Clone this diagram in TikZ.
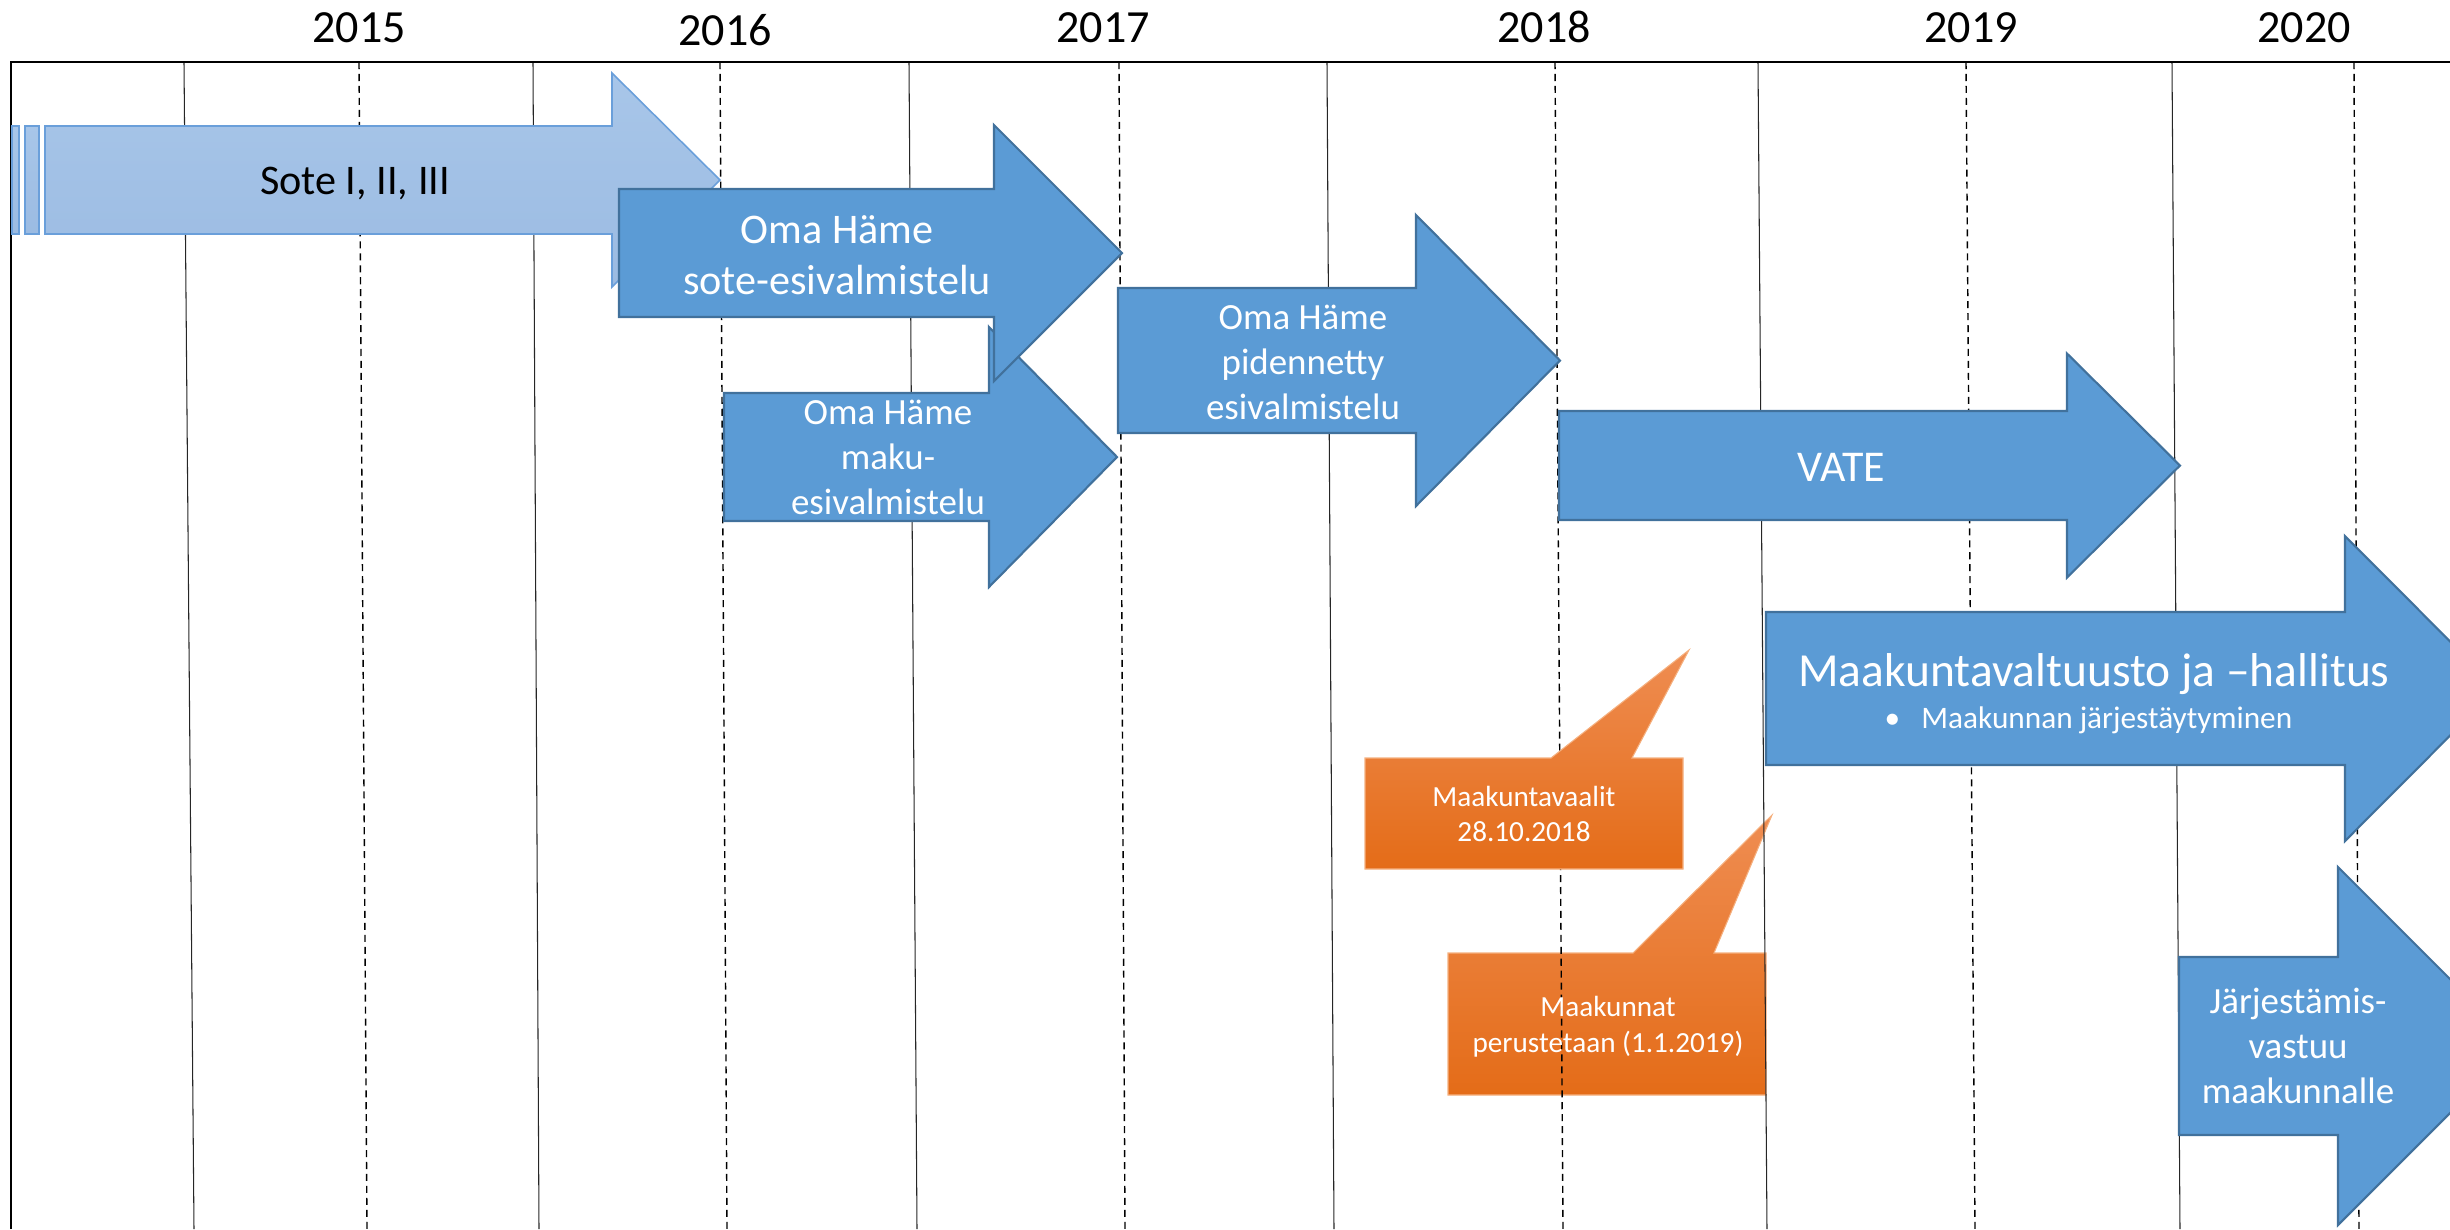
\documentclass[tikz,border=0pt]{standalone}
\usepackage{fontspec}
\setmainfont{Carlito}

\definecolor{omablue}{HTML}{5B9BD5}
\definecolor{omaline}{HTML}{41719C}
\definecolor{sotetop}{HTML}{A8C6E9}
\definecolor{sotebot}{HTML}{9BBBE2}
\definecolor{soteline}{HTML}{6A9FDA}
\definecolor{calltop}{HTML}{EF8D52}
\definecolor{callmid}{HTML}{F37E2E}
\definecolor{callbot}{HTML}{E46C18}
\definecolor{callline}{HTML}{F5B07F}

% block arrow: [style] left x, head x, tip x, mid y, body half, head half
\newcommand{\blockarrow}[7][]{%
  \draw[#1] (#2,{#5-#6}) -- (#3,{#5-#6}) -- (#3,{#5-#7}) -- (#4,#5)
    -- (#3,{#5+#7}) -- (#3,{#5+#6}) -- (#2,{#5+#6}) -- cycle;}

\begin{document}
\begin{tikzpicture}[x=0.01cm,y=-0.01cm,
    frame/.style={line width=0.6pt},
    monthline/.style={line width=0.3pt,black!85},
    yearline/.style={line width=0.4pt,dash pattern=on 2pt off 1.4pt},
    sotearrow/.style={draw=soteline,line width=0.45pt,top color=sotetop,bottom color=sotebot},
    omaarrow/.style={draw=omaline,line width=0.6pt,fill=omablue},
    callout/.style={draw=callline,line width=0.3pt,top color=calltop,middle color=callmid,bottom color=callbot}]

      \useasboundingbox (0,0) rectangle (2450,1229);
      \clip (0,0) rectangle (2450,1229);

      % second callout lies under the grid
      \draw[callout] (1448,953) -- (1633,953) -- (1772,815) -- (1714,953)
        -- (1766,953) -- (1766,1095) -- (1448,1095) -- cycle;

      % grid
      \draw[monthline] (184,62)  -- (194,1229);
      \draw[monthline] (533,62)  -- (539,1229);
      \draw[monthline] (909,62)  -- (917,1229);
      \draw[monthline] (1327,62) -- (1334,1229);
      \draw[monthline] (1758,62) -- (1767,1229);
      \draw[monthline] (2172,62) -- (2180,1229);
      \draw[yearline] (359,62)  -- (367,1229);
      \draw[yearline] (720,62)  -- (727,1229);
      \draw[yearline] (1119,62) -- (1125,1229);
      \draw[yearline] (1555,62) -- (1563,1229);
      \draw[yearline] (1966,62) -- (1975,1229);
      \draw[yearline] (2354,62) -- (2359,1229);
      \draw[frame] (11,1229) -- (11,62) -- (2450,62);

      \begin{scope}[every node/.style={anchor=base,font=\fontsize{13.1}{15}\selectfont}]
        \node (y2015) at (359,42)  {2015};
        \node (y2016) at (725,45)  {2016};
        \node (y2017) at (1103,42) {2017};
        \node (y2018) at (1544,42) {2018};
        \node (y2019) at (1971,42) {2019};
        \node (y2020) at (2304,42) {2020};
      \end{scope}

      % arrows
      \draw[sotearrow] (12,126) rectangle (19,234);
      \draw[sotearrow] (25,126) rectangle (39,234);
      \blockarrow[sotearrow]{45}{612}{720}{180}{54}{107}
      \blockarrow[omaarrow]{724}{989}{1117}{457}{64}{130}
      \blockarrow[omaarrow]{619}{994}{1122}{253}{64}{128}
      \blockarrow[omaarrow]{1118}{1416}{1560}{360.5}{72.5}{145.5}
      \blockarrow[omaarrow]{1559}{2067}{2180}{465.5}{54.5}{112}
      \blockarrow[omaarrow]{1766}{2345}{2497}{688.5}{76.5}{152.5}
      \blockarrow[omaarrow]{2179}{2338}{2517}{1046}{89}{179}

      \draw[callout] (1365,758) -- (1551,758) -- (1689,650) -- (1632,758)
        -- (1683,758) -- (1683,869) -- (1365,869) -- cycle;

      \node[anchor=base,font=\fontsize{12}{14}\selectfont] (sote) at (355,194) {Sote I, II, III};

      \begin{scope}[every node/.style={text=white,align=center,inner sep=0pt}]
        \node[font=\fontsize{12}{14.5}\selectfont] (soteesiv) at (837,255)
          {Oma Häme\\sote-esivalmistelu};
        \node[font=\fontsize{10.5}{12.8}\selectfont] (maku) at (888,457)
          {Oma Häme\\maku-\\esivalmistelu};
        \node[font=\fontsize{10.5}{12.8}\selectfont] (pidennetty) at (1303,362)
          {Oma Häme\\pidennetty\\esivalmistelu};
        \node[anchor=base,font=\fontsize{12.5}{15}\selectfont] (vate) at (1841,481) {VATE};
        \node[anchor=base,font=\fontsize{13.5}{16}\selectfont] (valtuusto) at (2094,686)
          {Maakuntavaltuusto ja –hallitus};
        \node[anchor=base west,font=\fontsize{8.9}{11}\selectfont] (jarjestaytyminen) at (1884,728)
          {•\hspace{6pt}Maakunnan järjestäytyminen};
        \node[font=\fontsize{8.3}{10.2}\selectfont] (vaalit) at (1524,814)
          {Maakuntavaalit\\28.10.2018};
        \node[font=\fontsize{8.3}{10.2}\selectfont] (perustetaan) at (1608,1027)
          {Maakunnat\\perustetaan (1.1.2019)};
        \node[font=\fontsize{10.5}{12.8}\selectfont] (vastuu) at (2298,1046)
          {Järjestämis-\\vastuu\\maakunnalle};
      \end{scope}

    \end{tikzpicture}
\end{document}
